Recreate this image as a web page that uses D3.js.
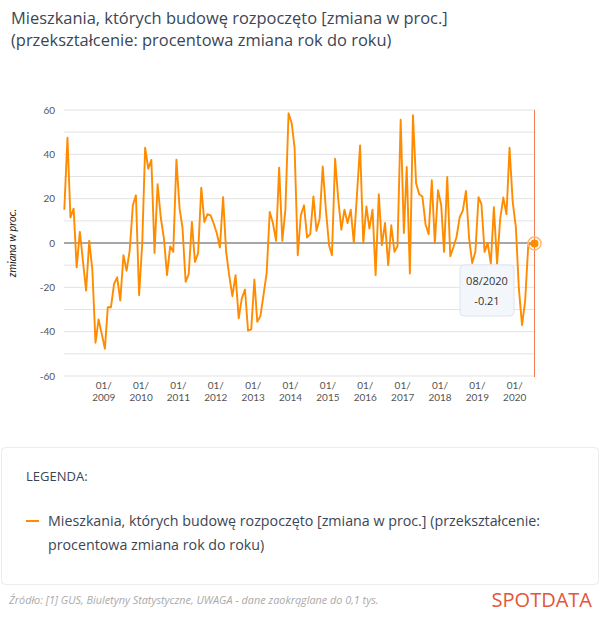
<!DOCTYPE html>
<html>
<head>
<meta charset="utf-8">
<script src="https://cdn.jsdelivr.net/npm/d3@7"></script>
<style>
  html, body { margin: 0; padding: 0; background: #fff; }
  svg { display: block; }
</style>
</head>
<body>
<div id="chart"></div>
<script>
// monthly values, 01/2008 .. 08/2020
const startYear = 2008;
const values2008 = [15, 47.5, 11.5, 15.5, -11, 5, -8, -21.5, 1, -12, -45, -34.5];
const values2009 = [-41, -47.7, -29, -29, -18.5, -15.5, -26, -5.5, -12.5, -3.5, 17, 21.5];
const values2010 = [-23.5, 0, 43, 33.5, 37.5, -4.5, 26.5, 11.5, 2, -14.5, -1.5, -4];
const values2011 = [37.6, 15.5, 7, -17.5, -14, 9.5, -8.5, -4.5, 25, 9.5, 13, 12.5];
const values2012 = [8.7, 4.2, -2, 20.7, -4, -15, -24, -14.5, -34, -25, -21, -39.5];
const values2013 = [-39, -16.5, -35.5, -33, -23.5, -13.5, 14, 9, 1, 34, 1, 15];
const values2014 = [58.5, 54, 43, -5.5, 12.5, 17, 2.5, 4, 21, 5.5, 11, 34.5];
const values2015 = [15, -1, -5.5, 38, 20, 6, 15, 9, 15, 0, 22, 44];
const values2016 = [0, 16.5, 6.5, 15, -14.5, 22, -1, 9, -10, 8, -4, -1.5];
const values2017 = [55.6, 4.5, 34.3, -13.8, 57.6, 26.8, 22, 21, 8.5, 4, 28.3, 0];
const values2018 = [23.8, 17, -4, 29.8, -6, -1.8, 2.7, 11.7, 14.7, 23.5, 2, -9];
const values2019 = [-4, 20.7, 17.7, -4, 0, -9.3, 16.2, -9.3, 11, 20.5, 13, 43];
const values2020 = [18.5, 7, -20.5, -37, -26.5, -1, -0.3, -0.21];

const yTicks = [-60, -40, -20, 0, 20, 40, 60];
const gridValues = [-60, -50, -40, -30, -20, -10, 0, 10, 20, 30, 40, 50, 60];
const tickYears = [2009, 2010, 2011, 2012, 2013, 2014, 2015, 2016, 2017, 2018, 2019, 2020];

const titleLines = [
    'Mieszkania, których budowę rozpoczęto [zmiana w proc.]',
    '(przekształcenie: procentowa zmiana rok do roku)'
];
const legendLines = [
    'Mieszkania, których budowę rozpoczęto [zmiana w proc.] (przekształcenie:',
    'procentowa zmiana rok do roku)'
];
const sourceText = 'Źródło: [1] GUS, Biuletyny Statystyczne, UWAGA - dane zaokrąglane do 0,1 tys.';

const allValues = [].concat(values2008, values2009, values2010, values2011, values2012,
    values2013, values2014, values2015, values2016, values2017, values2018, values2019, values2020);
const data = allValues.map((v, i) => ({ date: new Date(startYear, i, 1), value: v }));
const last = data[data.length - 1];

const width = 600, height = 626;
const orange = '#ff8c00';
const textDark = '#3b4655';

const svg = d3.select('#chart').append('svg')
    .attr('width', width)
    .attr('height', height);

// scale font size so the text is about w px wide
function fitTo(sel, w) {
    sel.each(function () {
        const fs = parseFloat(this.getAttribute('font-size'));
        const len = this.getComputedTextLength();
        this.setAttribute('font-size', (fs * w / len).toFixed(2));
    });
}

// Title
const title = svg.append('g');
titleLines.forEach((t, i) => {
    title.append('text')
        .attr('x', 11)
        .attr('y', 24 + i * 22)
        .attr('font-family', 'Open Sans, sans-serif')
        .attr('font-size', 19)
        .attr('fill', textDark)
        .text(t);
});
fitTo(title.select('text'), 437);
title.selectAll('text').attr('font-size', title.select('text').attr('font-size'));

// Scales
const x = d3.scaleTime()
    .domain([data[0].date, last.date])
    .range([64.3, 534.5]);
const y = d3.scaleLinear()
    .domain([-60, 60])
    .range([376, 110]);

// Grid
const g = svg.append('g');
g.selectAll('line.grid')
    .data(gridValues)
    .join('line')
    .attr('class', 'grid')
    .attr('x1', 64)
    .attr('x2', 534.5)
    .attr('y1', d => y(d))
    .attr('y2', d => y(d))
    .attr('stroke', d => d === 0 ? '#8a8a8a' : '#e3e3e3')
    .attr('stroke-width', d => d === 0 ? 1.3 : 1);

// Y axis labels
g.selectAll('text.ytick')
    .data(yTicks)
    .join('text')
    .attr('class', 'ytick')
    .attr('x', 55)
    .attr('y', d => y(d) + 3.5)
    .attr('text-anchor', 'end')
    .attr('font-family', 'Lato, sans-serif')
    .attr('font-size', 10)
    .attr('fill', '#555')
    .text(d => d);

svg.append('text')
    .attr('transform', `translate(16,${y(0)}) rotate(-90)`)
    .attr('text-anchor', 'middle')
    .attr('font-family', 'Lato, sans-serif')
    .attr('font-style', 'italic')
    .attr('font-size', 11)
    .attr('fill', '#222')
    .text('zmiana w proc.');

// X axis labels
const xt = g.selectAll('text.xtick')
    .data(tickYears)
    .join('text')
    .attr('class', 'xtick')
    .attr('text-anchor', 'middle')
    .attr('font-family', 'Lato, sans-serif')
    .attr('font-size', 10)
    .attr('fill', '#555');
xt.append('tspan')
    .attr('x', d => x(new Date(d, 0, 1)) + 2)
    .attr('y', 389)
    .text('01/');
xt.append('tspan')
    .attr('x', d => x(new Date(d, 0, 1)) + 2)
    .attr('y', 401)
    .text(d => d);

// right edge (hover marker)
svg.append('line')
    .attr('x1', x(last.date))
    .attr('x2', x(last.date))
    .attr('y1', 110)
    .attr('y2', 377)
    .attr('stroke', '#f47a50')
    .attr('stroke-width', 1);

// Line
const line = d3.line()
    .x(d => x(d.date))
    .y(d => y(d.value));

svg.append('path')
    .datum(data)
    .attr('d', line)
    .attr('fill', 'none')
    .attr('stroke', orange)
    .attr('stroke-width', 1.9)
    .attr('stroke-linejoin', 'round');

// end marker
svg.append('circle')
    .attr('cx', x(last.date))
    .attr('cy', y(last.value))
    .attr('r', 6.5)
    .attr('fill', 'none')
    .attr('stroke', '#ffb870')
    .attr('stroke-width', 1.5);
svg.append('circle')
    .attr('cx', x(last.date))
    .attr('cy', y(last.value))
    .attr('r', 4)
    .attr('fill', orange);

// tooltip
const tip = svg.append('g').attr('transform', 'translate(460,265)');
tip.append('rect')
    .attr('width', 54)
    .attr('height', 51)
    .attr('rx', 4)
    .attr('fill', '#f3f7fc')
    .attr('stroke', '#dbe5f0');
tip.append('text')
    .attr('x', 27)
    .attr('y', 20)
    .attr('text-anchor', 'middle')
    .attr('font-family', 'Open Sans, sans-serif')
    .attr('font-size', 11)
    .attr('fill', '#333')
    .text(d3.timeFormat('%m/%Y')(last.date));
tip.append('text')
    .attr('x', 27)
    .attr('y', 40)
    .attr('text-anchor', 'middle')
    .attr('font-family', 'Open Sans, sans-serif')
    .attr('font-size', 11)
    .attr('fill', '#333')
    .text(last.value);

// Legend box
const leg = svg.append('g');
leg.append('rect')
    .attr('x', 1.5)
    .attr('y', 447.5)
    .attr('width', 597)
    .attr('height', 137)
    .attr('rx', 4)
    .attr('fill', '#fff')
    .attr('stroke', '#ececec');
leg.append('text')
    .attr('x', 26)
    .attr('y', 481)
    .attr('font-family', 'Open Sans, sans-serif')
    .attr('font-size', 13)
    .attr('fill', textDark)
    .text('LEGENDA:');
leg.append('line')
    .attr('x1', 26)
    .attr('x2', 39)
    .attr('y1', 521)
    .attr('y2', 521)
    .attr('stroke', orange)
    .attr('stroke-width', 2);
legendLines.forEach((t, i) => {
    leg.append('text')
        .attr('class', 'legtext')
        .attr('x', 48)
        .attr('y', 526 + i * 24)
        .attr('font-family', 'Open Sans, sans-serif')
        .attr('font-size', 14)
        .attr('fill', textDark)
        .text(t);
});
fitTo(leg.select('text.legtext'), 492);
leg.selectAll('text.legtext').attr('font-size', leg.select('text.legtext').attr('font-size'));

// footer
svg.append('text')
    .attr('class', 'source')
    .attr('x', 9)
    .attr('y', 604)
    .attr('font-family', 'Open Sans, sans-serif')
    .attr('font-style', 'italic')
    .attr('font-size', 9)
    .attr('fill', '#aaa')
    .text(sourceText);
fitTo(svg.select('text.source'), 370);

svg.append('text')
    .attr('x', 592)
    .attr('y', 607)
    .attr('text-anchor', 'end')
    .attr('font-family', 'Open Sans, sans-serif')
    .attr('font-size', 20)
    .attr('fill', '#e5553a')
    .text('SPOTDATA');
</script>
</body>
</html>
